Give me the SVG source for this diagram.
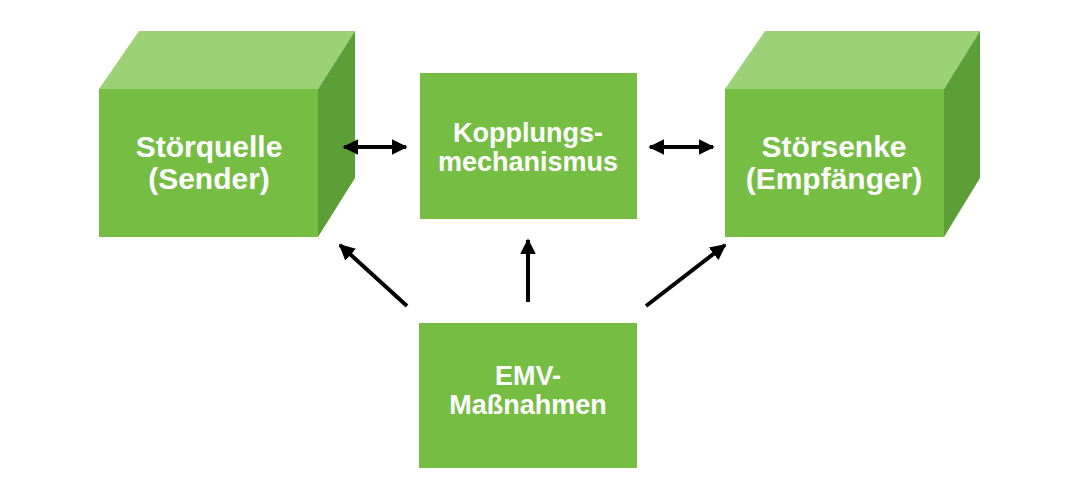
<svg xmlns="http://www.w3.org/2000/svg" width="1080" height="500" viewBox="0 0 1080 500">
<defs>
<style>
.front{fill:#76bd44}
.top{fill:#9cd175}
.side{fill:#5c9f36}
.box{fill:#76bd44}
.t{font-family:"Liberation Sans",Arial,sans-serif;font-weight:bold;fill:#fff;text-anchor:middle}
.big{font-size:30px}
.mid{font-size:27px}
.conn line{stroke:#000;stroke-width:4}
</style>
<marker id="ah" viewBox="0 0 10 10" refX="9" refY="5" markerWidth="4" markerHeight="4" orient="auto-start-reverse" markerUnits="strokeWidth">
<path d="M0,0 L10,5 L0,10 z" fill="#000"/>
</marker>
</defs>
<rect width="1080" height="500" fill="#fff"/>
<g id="stoerquelle">
<polygon class="top" points="99,89 139,31 355,31 318,89"/>
<polygon class="side" points="318,89 355,31 355,178 318,237"/>
<rect class="front" x="99" y="89" width="219" height="148"/>
<text class="t big" x="209" y="157">Störquelle</text>
<text class="t big" x="209" y="189">(Sender)</text>
</g>
<g id="stoersenke">
<polygon class="top" points="725,89 765,31 980,31 944,89"/>
<polygon class="side" points="944,89 980,31 980,178 944,237"/>
<rect class="front" x="725" y="89" width="219" height="148"/>
<text class="t big" x="834" y="157">Störsenke</text>
<text class="t big" x="834" y="189">(Empfänger)</text>
</g>
<g id="kopplung">
<rect class="box" x="420" y="73" width="217" height="146"/>
<text class="t mid" x="528" y="142">Kopplungs-</text>
<text class="t mid" x="528" y="171">mechanismus</text>
</g>
<g id="emv">
<rect class="box" x="419" y="323" width="218" height="145"/>
<text class="t mid" x="528" y="385">EMV-</text>
<text class="t mid" x="528" y="414">Maßnahmen</text>
</g>
<g class="conn">
<line x1="344" y1="147" x2="406" y2="147" marker-start="url(#ah)" marker-end="url(#ah)"/>
<line x1="650" y1="147" x2="713" y2="147" marker-start="url(#ah)" marker-end="url(#ah)"/>
<line x1="407" y1="306" x2="340" y2="245" marker-end="url(#ah)"/>
<line x1="528" y1="302" x2="528" y2="240" marker-end="url(#ah)"/>
<line x1="646" y1="306" x2="725" y2="245" marker-end="url(#ah)"/>
</g>
</svg>
